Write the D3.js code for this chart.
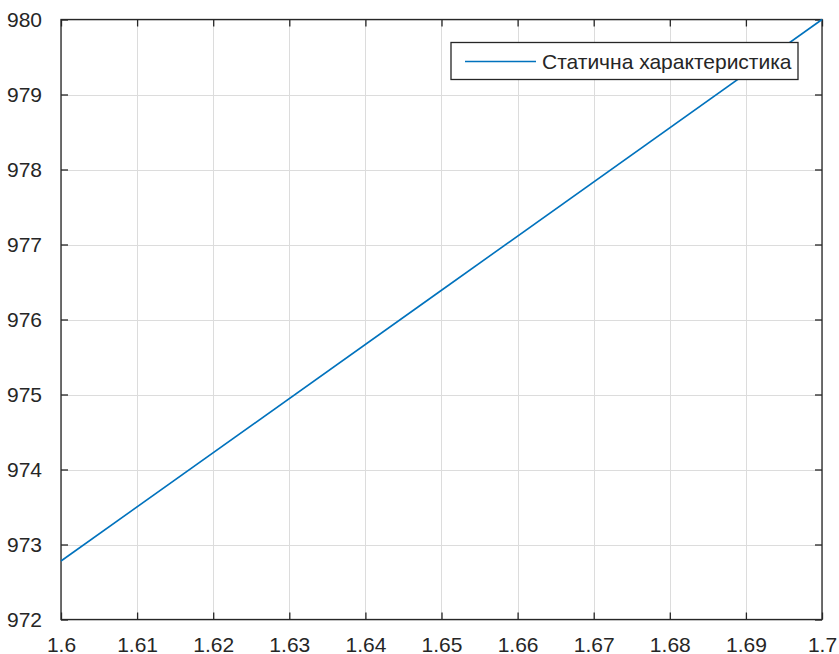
<!DOCTYPE html>
<html>
<head>
<meta charset="UTF-8">
<title>Статична характеристика</title>
<script src="https://cdn.jsdelivr.net/npm/d3@7"></script>
<style>
	body { margin: 0; background: #fff; }
	svg text { font-family: "Liberation Sans", Arial, sans-serif; fill: #262626; }
	.grid line { stroke: #dcdcdc; stroke-width: 1; }
</style>
</head>
<body>
<svg width="839" height="654"></svg>
<script>
// дані
var xVals = [1.6, 1.65, 1.7];
var yVals = [972.78, 976.39, 980.0];
var xTicks = [1.6, 1.61, 1.62, 1.63, 1.64, 1.65, 1.66, 1.67, 1.68, 1.69, 1.7];
var yTicks = [972, 973, 974, 975, 976, 977, 978, 979, 980];
var seriesName = "Статична характеристика";

var mLeft = 61, mRight = 822, mTop = 19.5, mBottom = 619.5;
var svg = d3.select("svg");

var x = d3.scaleLinear().domain([1.6, 1.7]).range([mLeft, mRight]);
var y = d3.scaleLinear().domain([972, 980]).range([mBottom, mTop]);

// сітка
var grid = svg.append("g").attr("class", "grid");
grid.selectAll(".gx").data(xTicks).enter().append("line")
	.attr("x1", function(d) { return Math.round(x(d)) + 0.5; })
	.attr("x2", function(d) { return Math.round(x(d)) + 0.5; })
	.attr("y1", mTop).attr("y2", mBottom);
grid.selectAll(".gy").data(yTicks).enter().append("line")
	.attr("y1", function(d) { return Math.round(y(d)) + 0.5; })
	.attr("y2", function(d) { return Math.round(y(d)) + 0.5; })
	.attr("x1", mLeft).attr("x2", mRight);

// осі з внутрішніми рисками
function styleAxis(g) {
	g.select(".domain").remove();
	g.selectAll(".tick line").attr("stroke", "#262626").attr("stroke-width", 1.3);
	g.selectAll(".tick text").style("font-size", "21px").attr("fill", "#262626");
}
var fmt = function(d) { return d3.format("")(+d.toFixed(2)); };

svg.append("g").attr("transform", "translate(0," + mBottom + ")")
	.call(d3.axisBottom(x).tickValues(xTicks).tickFormat(fmt).tickSizeInner(-7).tickPadding(18))
	.call(styleAxis);
svg.append("g").attr("transform", "translate(0," + mTop + ")")
	.call(d3.axisTop(x).tickValues(xTicks).tickFormat("").tickSizeInner(-7))
	.call(styleAxis);
svg.append("g").attr("transform", "translate(" + mLeft + ",0)")
	.call(d3.axisLeft(y).tickValues(yTicks).tickFormat(d3.format("d")).tickSizeInner(-7).tickPadding(19))
	.call(styleAxis);
svg.append("g").attr("transform", "translate(" + mRight + ",0)")
	.call(d3.axisRight(y).tickValues(yTicks).tickFormat("").tickSizeInner(-7))
	.call(styleAxis);

// рамка
svg.append("rect")
	.attr("x", mLeft).attr("y", mTop)
	.attr("width", mRight - mLeft).attr("height", mBottom - mTop)
	.attr("fill", "none").attr("stroke", "#262626").attr("stroke-width", 1.3);

// лінія
var line = d3.line()
	.x(function(d, i) { return x(xVals[i]); })
	.y(function(d) { return y(d); });
svg.append("path").datum(yVals)
	.attr("d", line)
	.attr("fill", "none")
	.attr("stroke", "#0072BD")
	.attr("stroke-width", 1.6);

// легенда
var lg = svg.append("g");
lg.append("rect")
	.attr("x", 451).attr("y", 42.5).attr("width", 347).attr("height", 37)
	.attr("fill", "#fff").attr("stroke", "#262626").attr("stroke-width", 1.3);
lg.append("line")
	.attr("x1", 465).attr("x2", 536).attr("y1", 61.5).attr("y2", 61.5)
	.attr("stroke", "#0072BD").attr("stroke-width", 1.6);
lg.append("text")
	.attr("x", 542).attr("y", 69)
	.style("font-size", "21px")
	.text(seriesName);
</script>
</body>
</html>
